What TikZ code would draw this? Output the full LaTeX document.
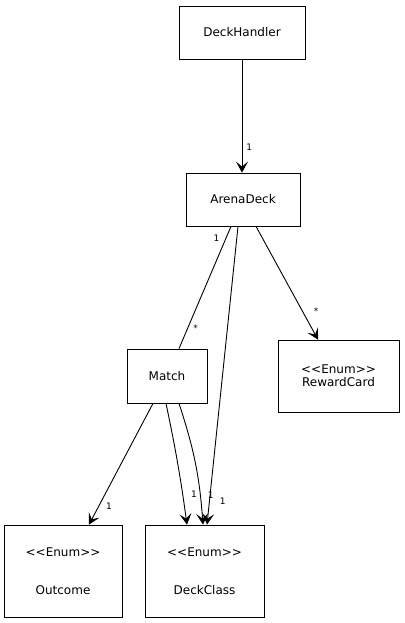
\documentclass[tikz,border=0pt]{standalone}
\usepackage{fontspec}
\setmainfont{DejaVu Sans}
\usetikzlibrary{arrows.meta}
\newcommand{\enumtag}{<\kern0pt<Enum>\kern0pt>}
\tikzstyle{every node}=[font=\fontsize{12}{14}\selectfont]
\tikzset{
  cls/.style={draw,line width=0.8pt,inner sep=0pt,align=center},
  mult/.style={font=\fontsize{9}{10}\selectfont,inner sep=1pt},
  assoc/.style={line width=0.9pt}
}

\begin{document}
\begin{tikzpicture}[>={Stealth[length=11pt,width=12pt,inset=5pt]},x=1pt,y=-1pt]
            \useasboundingbox (0,0) rectangle (404,623);
            \node[cls,minimum width=126,minimum height=53] (handler) at (242,32.5) {DeckHandler};
            \node[cls,minimum width=114,minimum height=53] (arena) at (243,199.5) {ArenaDeck};
            \node[cls,minimum width=80,minimum height=54] (match) at (167,376) {Match};
            \node[cls,minimum width=121,minimum height=72] (reward) at (338.5,376) {\enumtag\\[-1pt]RewardCard};
            \node[cls,minimum width=118,minimum height=92] (outcome) at (63,571) {\enumtag\\[24pt]Outcome};
            \node[cls,minimum width=119,minimum height=92] (deckclass) at (204.5,571) {\enumtag\\[24pt]DeckClass};

            \draw [->,assoc] (handler.south) -- (handler.south |- arena.north) node [mult,pos=0.78,right=3pt] {1};
            \draw [assoc] ([xshift=-12pt]arena.south) -- ([xshift=12pt]match.north)
                node [mult,pos=0.1,left=5pt] {1} node [mult,pos=0.83,right=4pt] {*};
            \draw [->,assoc] ([xshift=13pt]arena.south) -- ([xshift=-20.5pt]reward.north) node [mult,pos=0.75,right=10pt] {*};
            \draw [->,assoc] ([xshift=-5pt]arena.south) -- ([xshift=2.5pt]deckclass.north) node [mult,pos=0.92,right=9pt] {1};
            \draw [->,assoc] ([xshift=-14pt]match.south) -- ([xshift=26pt]outcome.north) node [mult,pos=0.85,right=6pt] {1};
            \draw [->,assoc] ([xshift=-1pt]match.south) to[bend left=2] node [mult,pos=0.77,right=7pt] {1} ([xshift=-17.5pt]deckclass.north);
            \draw [->,assoc] ([xshift=12pt]match.south) to[bend left=7] node [mult,pos=0.78,right=6pt] {1} ([xshift=-1.5pt]deckclass.north);
\end{tikzpicture}
\end{document}
